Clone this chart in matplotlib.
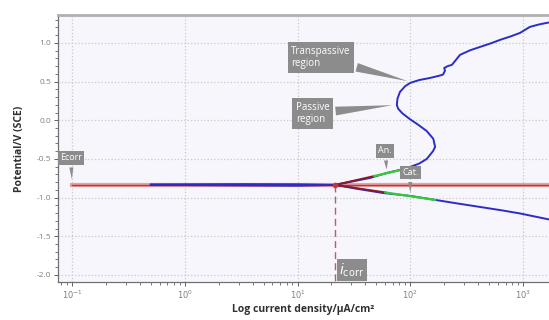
"""Potentiodynamic polarisation curve with Tafel fit."""
import numpy as np
import matplotlib
matplotlib.use("Agg")
import matplotlib.pyplot as plt
from matplotlib.ticker import FixedLocator, MultipleLocator

plt.rcParams['font.family'] = ['Open Sans', 'DejaVu Sans']

# measured curve, anodic branch (current density uA/cm2, potential V vs SCE)
anodic_i = [0.5, 1.0, 3.2, 10, 21.5, 44, 62, 81, 100, 120, 140, 159, 166, 160,
            140, 118, 98, 85, 78, 76, 77, 81, 90, 100, 120, 150, 180, 195,
            203, 200, 215, 234, 276, 340, 416, 520, 625, 780, 940, 1150, 1400,
            1630, 1800]
anodic_E = [-0.829, -0.828, -0.826, -0.828, -0.836, -0.746, -0.681, -0.642,
            -0.603, -0.560, -0.500, -0.400, -0.345, -0.240, -0.140, -0.060,
            0.020, 0.090, 0.150, 0.198, 0.280, 0.366, 0.440, 0.483, 0.520,
            0.547, 0.575, 0.590, 0.640, 0.675, 0.700, 0.716, 0.845, 0.905,
            0.948, 0.995, 1.039, 1.085, 1.129, 1.207, 1.240, 1.259, 1.27]
# cathodic branch
cathodic_i = [0.5, 1.0, 3.2, 10, 21.5, 35, 57, 100, 159, 260, 416, 650, 940,
              1800]
cathodic_E = [-0.838, -0.838, -0.842, -0.846, -0.836, -0.890, -0.940, -0.978,
              -1.025, -1.075, -1.121, -1.165, -1.205, -1.29]

# Tafel fit
E_corr = -0.836
i_corr = 21.5
an_fit_i, an_fit_E = [21.5, 48], [-0.836, -0.721]
an_green_i, an_green_E = [48, 83], [-0.721, -0.642]
cat_fit_i, cat_fit_E = [21.5, 60], [-0.836, -0.933]
cat_green_i, cat_green_E = [60, 166], [-0.933, -1.030]

x_ticks = [0.1, 1, 10, 100, 1000]
x_ticklabels = ["$10^{-1}$", "$10^{0}$", "$10^{1}$", "$10^{2}$", "$10^{3}$"]
y_ticks = [1.0, 0.5, 0.0, -0.5, -1.0, -1.5, -2.0]

fig = plt.figure(figsize=(5.49, 3.20), dpi=100)
ax = fig.add_axes([0.1056, 0.119, 0.8944, 0.834])
ax.set_facecolor("#f6f6fc")
ax.set_xscale("log")
ax.set_xlim(10 ** -1.124, 10 ** 3.23)
ax.set_ylim(-2.09, 1.36)

ax.grid(True, which="major", color="#c9c9c9", linestyle=":", linewidth=0.9)
ax.xaxis.set_major_locator(FixedLocator(x_ticks))
ax.set_xticklabels(x_ticklabels)
ax.set_yticks(y_ticks)
ax.set_yticklabels([f"{v:.1f}" for v in y_ticks])
ax.yaxis.set_minor_locator(MultipleLocator(0.1))
ax.tick_params(axis="both", which="major", labelsize=6, labelcolor="#808080",
               color="#606060", length=3, width=0.7, pad=2)
ax.tick_params(axis="both", which="minor", color="#606060", length=2, width=0.6)

for s in ["left", "bottom"]:
    ax.spines[s].set_color("#707070")
    ax.spines[s].set_linewidth(0.9)
ax.spines["top"].set_color("#b0b0b0")
ax.spines["top"].set_linewidth(2)
ax.spines["right"].set_visible(False)

# Ecorr line
ax.plot([0.1, 3000], [E_corr, E_corr], color="#e8a0a0", lw=3, zorder=2)
ax.plot([0.1, 3000], [E_corr, E_corr], color="#b83a3a", lw=1.0, zorder=3)
ax.plot([i_corr, i_corr], [E_corr, -2.09], color="#b86060", lw=1.0,
        linestyle=(0, (5, 3)), zorder=3)

ax.plot(anodic_i, anodic_E, color="#2c2cc8", lw=1.4, zorder=4)
ax.plot(cathodic_i, cathodic_E, color="#2c2cc8", lw=1.4, zorder=4)

ax.plot(an_fit_i, an_fit_E, color="#8a1a2a", lw=1.4, zorder=5)
ax.plot(cat_fit_i, cat_fit_E, color="#8a1a2a", lw=1.4, zorder=5)
ax.plot(an_green_i, an_green_E, color="#33cc33", lw=1.6, zorder=5)
ax.plot(cat_green_i, cat_green_E, color="#33cc33", lw=1.6, zorder=5)
ax.plot([i_corr], [E_corr], marker="o", ms=3, color="#d03030", zorder=6)

box = dict(boxstyle="square,pad=0.35", fc="#8c8c8c", ec="none")
small_box = dict(boxstyle="square,pad=0.25", fc="#8c8c8c", ec="none")
wedge = dict(arrowstyle="wedge,tail_width=0.9,shrink_factor=0.5",
             fc="#8c8c8c", ec="none")
thin = dict(arrowstyle="wedge,tail_width=0.45,shrink_factor=0.5",
            fc="#8c8c8c", ec="none")

ax.annotate("Transpassive\nregion", xy=(100, 0.496), xytext=(16.1, 0.81),
            ha="center", va="center", multialignment="left", color="white",
            fontsize=7, bbox=box, arrowprops=wedge, zorder=7)
ax.annotate("Passive\nregion", xy=(73, 0.198), xytext=(13.6, 0.088),
            ha="center", va="center", multialignment="left", color="white",
            fontsize=7, bbox=box, arrowprops=wedge, zorder=7)
ax.annotate("Ecorr", xy=(0.1, -0.80), xytext=(0.098, -0.487),
            ha="center", va="center", color="white", fontsize=6.5,
            bbox=small_box, arrowprops=thin, zorder=7)
ax.annotate("An.", xy=(62, -0.675), xytext=(60, -0.397),
            ha="center", va="center", color="white", fontsize=6.5,
            bbox=small_box, arrowprops=thin, zorder=7)
ax.annotate("Cat.", xy=(100, -0.97), xytext=(100, -0.675),
            ha="center", va="center", color="white", fontsize=6.5,
            bbox=small_box, arrowprops=thin, zorder=7)
ax.text(23.5, -1.935, r"$i_{\mathrm{corr}}$", ha="left", va="center",
        color="white", fontsize=10,
        bbox=dict(boxstyle="square,pad=0.15", fc="#8c8c8c", ec="none"),
        zorder=7)

ax.set_ylabel("Potential/V (SCE)", fontsize=7.5, fontweight="bold",
              color="#303030", labelpad=8)
ax.set_xlabel("Log current density/µA/cm²", fontsize=7.5, fontweight="bold",
              color="#303030", labelpad=2)

plt.savefig("out.png", dpi=100)
plt.close()
